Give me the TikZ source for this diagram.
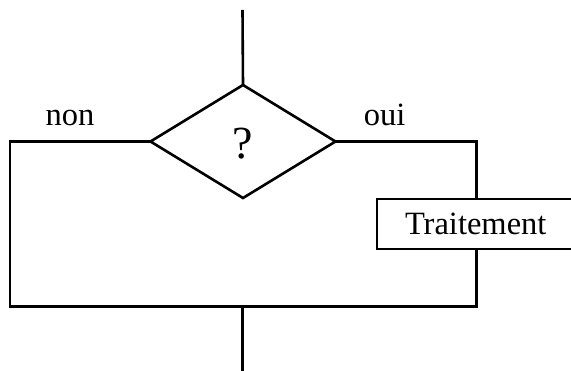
\documentclass[tikz,border=0pt]{standalone}
\usepackage{fontspec}
\setmainfont{Liberation Serif}
\usetikzlibrary{shapes.geometric}
\begin{document}
\begin{tikzpicture}[x=1pt,y=-1pt,
  line/.style={line width=2.6pt,line join=miter},
  decision/.style={diamond,draw,line width=2.6pt,minimum width=185pt,minimum height=113pt,inner sep=0pt,outer sep=0pt},
  process/.style={rectangle,draw,line width=2.6pt,minimum height=50pt,inner xsep=28pt,inner ysep=0pt,outer sep=0pt,text width=157pt,align=left},
  lbl/.style={font=\fontsize{32.5}{38}\selectfont,inner sep=0pt}]
\useasboundingbox (0,0) rectangle (571,371);
\clip (0,0) rectangle (571,371);
\node[decision] (d) at (243,141.5) {};
\node[lbl,anchor=base] (q) at (243,159) {\fontsize{46}{50}\selectfont ?};
\node[process,font=\fontsize{32.5}{38}\selectfont] (box) at (483.5,224) {Traitement};
\node[lbl,anchor=base] (non) at (70,125.7) {non};
\node[lbl,anchor=base] (oui) at (384.7,125.7) {oui};
\coordinate (top) at (242.5,10);
\coordinate (cl) at (10,141.5);
\coordinate (bl) at (10,306.5);
\coordinate (rx) at (476.7,0);
\coordinate (m) at (242.5,306.5);
\coordinate (bot) at (242.5,373);
\draw[line] (top) -- (d.north);
\draw[line] (d.east) -| (rx |- box.north);
\draw[line] (d.west) -- (cl) -- (bl) -- (rx |- bl) -- (rx |- box.south);
\draw[line] (m) -- (bot);
\end{tikzpicture}
\end{document}
